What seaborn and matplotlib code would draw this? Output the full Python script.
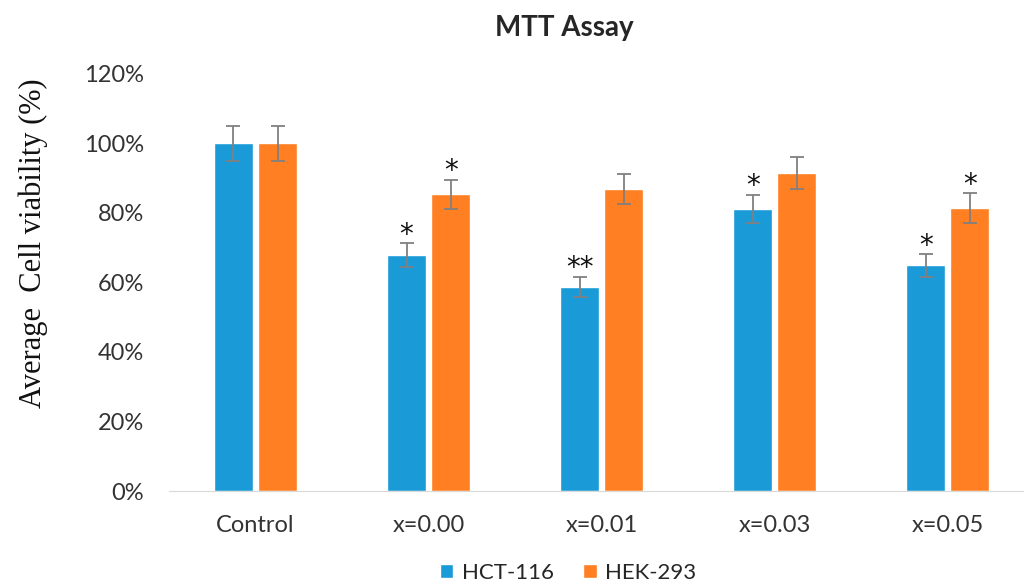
import numpy as np
import pandas as pd
import matplotlib
matplotlib.use("Agg")
import matplotlib.pyplot as plt
import seaborn as sns
from matplotlib.ticker import PercentFormatter

# MTT assay, cell viability
groups = ["Control", "x=0.00", "x=0.01", "x=0.03", "x=0.05"]
hct_mean = [1.00, 0.679, 0.587, 0.812, 0.649]
hek_mean = [1.00, 0.853, 0.868, 0.915, 0.814]
hct_err = [0.051, 0.034, 0.030, 0.040, 0.032]
hek_err = [0.051, 0.043, 0.043, 0.046, 0.042]
hct_stars = ["", "*", "**", "*", "*"]
hek_stars = ["", "*", "", "", "*"]
lines = ["HCT-116", "HEK-293"]

df = pd.DataFrame({
    "group": groups * 2,
    "line": [lines[0]] * 5 + [lines[1]] * 5,
    "viability": hct_mean + hek_mean,
})

sns.set_style("white")
plt.rcParams["font.family"] = ["Lato", "DejaVu Sans"]

fig = plt.figure(figsize=(10.24, 5.86), dpi=100)
ax = fig.add_axes([0.165, 0.162, 0.835, 0.712])

sns.barplot(data=df, x="group", y="viability", hue="line", order=groups,
            hue_order=lines, palette=["#1a9bd7", "#ff7f22"], width=0.51,
            gap=0.115, saturation=1, errorbar=None, ax=ax)

# error bars + significance stars from the drawn bars
errs = hct_err + hek_err
stars = hct_stars + hek_stars
for patch, err, st in zip(ax.patches, errs, stars):
    xc = patch.get_x() + patch.get_width() / 2
    h = patch.get_height()
    ax.errorbar(xc, h, yerr=err, color="#808080", lw=1.3, capsize=5, capthick=1.3)
    if st:
        ax.annotate(st, (xc, h + err), xytext=(0, -4), textcoords="offset points",
                    ha="center", va="bottom", fontsize=20, color="#111111",
                    fontfamily="DejaVu Sans")

ax.set_ylim(0, 1.2)
ax.set_xlim(-0.5, 4.44)
ax.yaxis.set_major_formatter(PercentFormatter(1.0, decimals=0))
ax.set_yticks(np.arange(0, 1.21, 0.2))
ax.tick_params(axis="both", length=0, labelsize=17, colors="#333333")
ax.tick_params(axis="x", pad=17)
ax.tick_params(axis="y", pad=18)
for s in ["top", "right", "left"]:
    ax.spines[s].set_visible(False)
ax.spines["bottom"].set_color("#d9d9d9")
ax.set_xlabel("")
ax.set_ylabel("Average  Cell viability (%)", fontsize=22, color="#111111",
              fontfamily="Liberation Serif")
ax.yaxis.set_label_coords(-0.142, 0.595)
ax.set_title("MTT Assay", fontsize=20, fontweight="bold", x=0.462, pad=27)

ax.legend(loc="center", bbox_to_anchor=(0.555, 0.022),
          bbox_transform=fig.transFigure, ncol=2,
          frameon=False, fontsize=16, handlelength=0.6, handleheight=0.6,
          handletextpad=0.4, columnspacing=1.3, borderpad=0)

fig.savefig("out.png", dpi=100)
